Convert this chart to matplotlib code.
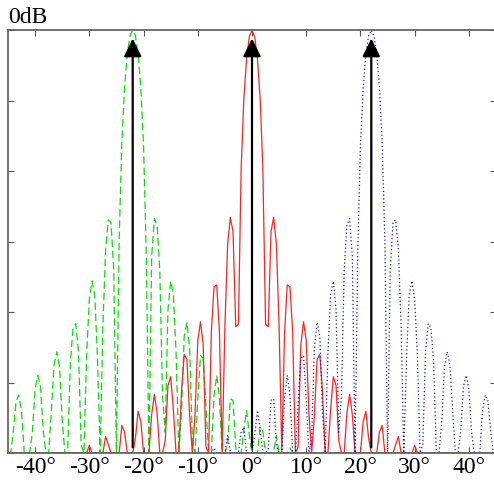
import numpy as np
import matplotlib
matplotlib.use('Agg')
import matplotlib.pyplot as plt

# beam pattern of a uniform linear array, three steering directions
steer_deg = [-22.0, 0.0, 22.0]
line_colors = ['#10d810', '#f02828', '#1818b0']
line_styles = [(0, (6, 3)), '-', (0, (1, 2))]
n_elem = 42            # elements
spacing = 0.5          # element spacing in wavelengths
floor_db = -30.0       # bottom of the plot
scan_start, scan_stop, scan_step = -45.0, 45.0, 0.5

xtick_vals = [-40, -30, -20, -10, 0, 10, 20, 30, 40]
xtick_text = ['-40°', '-30°', '-20°', '-10°', '0°', '10°', '20°', '30°', '40°']
ytick_vals = [0, -5, -10, -15, -20, -25, -30]

plt.rcParams['font.family'] = ['Liberation Serif', 'DejaVu Serif']

theta = np.arange(scan_start, scan_stop + scan_step / 2, scan_step)
elem = np.arange(n_elem)

fig = plt.figure(figsize=(4.94, 4.86), dpi=100)
ax = fig.add_axes([8 / 494, 1 - 453 / 486, 488 / 494, 423 / 486])

for ang, col, ls in zip(steer_deg, line_colors, line_styles):
    u = np.sin(np.radians(theta)) - np.sin(np.radians(ang))
    psi = 2 * np.pi * spacing * u
    af = np.abs(np.exp(1j * np.outer(psi, elem)).sum(axis=1)) / n_elem
    db = 20 * np.log10(np.maximum(af, 1e-6))
    db = np.maximum(db, floor_db)
    ax.plot(theta, db, color=col, linestyle=ls, lw=0.9)

for ang in steer_deg:
    ax.annotate('', xy=(ang, -0.6), xytext=(ang, -29.6),
                arrowprops=dict(arrowstyle='-|>,head_length=11,head_width=5.4',
                                mutation_scale=1, color='k', lw=1.6,
                                shrinkA=0, shrinkB=0))

ax.set_xlim(scan_start, scan_stop)
ax.set_ylim(floor_db, 0)
ax.set_xticks(xtick_vals)
ax.set_xticklabels(xtick_text, fontsize=17)
ax.set_yticks(ytick_vals)
ax.set_yticklabels([])
ax.tick_params(direction='in', length=4, width=0.8, color='#555555',
               top=True, right=True, pad=3)
for sp in ax.spines.values():
    sp.set_color('#666666')
    sp.set_linewidth(1.3)

fig.text(8 / 494, 1 - 23 / 486, '0dB', fontsize=17, va='baseline', ha='left')

fig.savefig('out.png', dpi=100)
